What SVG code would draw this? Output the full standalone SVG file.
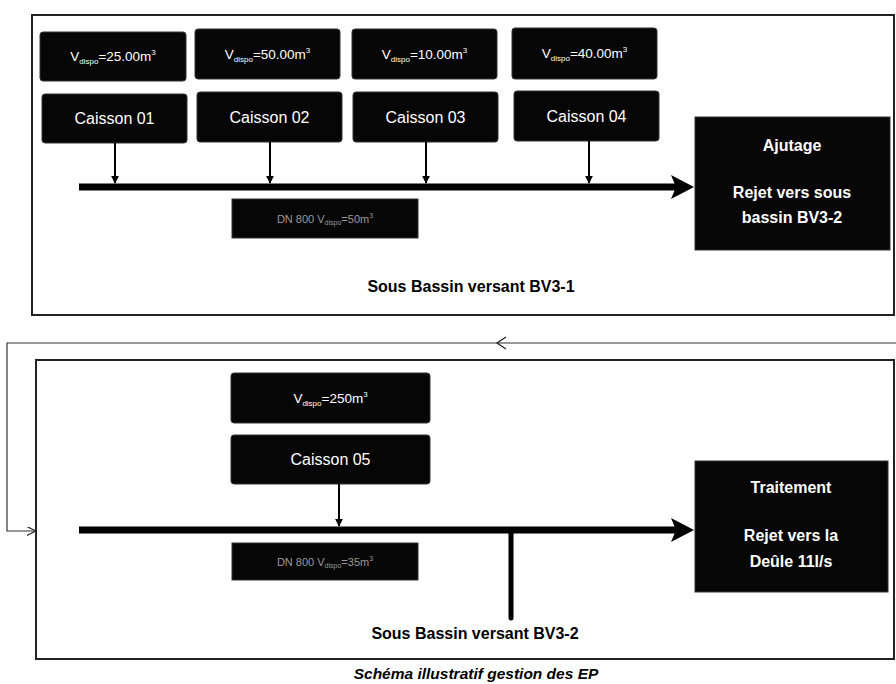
<svg xmlns="http://www.w3.org/2000/svg" width="896" height="684" viewBox="0 0 896 684">
<style>
.frame{fill:none;stroke:#222;stroke-width:2}
.box{fill:#060606;stroke:#333;stroke-width:1}
.vd{font-family:"Liberation Sans",Arial,sans-serif;font-size:13.5px;fill:#fff;text-anchor:middle}
.cs{font-family:"Liberation Sans",Arial,sans-serif;font-size:16px;fill:#fff;text-anchor:middle}
.bt{font-family:"Liberation Sans",Arial,sans-serif;font-size:16px;font-weight:bold;fill:#fff;text-anchor:middle}
.dn{font-family:"Liberation Sans",Arial,sans-serif;font-size:11px;fill:#9a9a9a;text-anchor:middle}
.lbl{font-family:"Liberation Sans",Arial,sans-serif;font-size:16px;font-weight:bold;fill:#000;text-anchor:middle}
.cap{font-family:"Liberation Sans",Arial,sans-serif;font-size:15.5px;font-weight:bold;font-style:italic;fill:#000;text-anchor:middle}
.thin{stroke:#000;stroke-width:2;fill:none}
.bar{stroke:#000;stroke-width:7;fill:none}
.loop{stroke:#333;stroke-width:1.2;fill:none}
</style>
<defs>
<marker id="ah" viewBox="0 0 10 10" refX="9" refY="5" markerWidth="4" markerHeight="4" orient="auto"><path d="M0,0 L10,5 L0,10 z" fill="#000"/></marker>
<marker id="open" viewBox="0 0 10 10" refX="9" refY="5" markerWidth="9" markerHeight="9" markerUnits="userSpaceOnUse" orient="auto"><path d="M0,0 L10,5 L0,10" fill="none" stroke="#222" stroke-width="1.3"/></marker>
</defs>

<g id="frame-bv31"><rect class="frame" x="32" y="15" width="862" height="300"/></g>
<g id="frame-bv32"><rect class="frame" x="36" y="360" width="858" height="299"/></g>

<g id="vdispo1"><rect class="box" x="40" y="32" width="146" height="49" rx="3"/><text class="vd" x="113" y="61">V<tspan font-size="8" dy="3">dispo</tspan><tspan dy="-3">=25.00m</tspan><tspan font-size="8" dy="-6">3</tspan></text></g>
<g id="vdispo2"><rect class="box" x="195" y="29" width="145" height="50" rx="3"/><text class="vd" x="267.5" y="59">V<tspan font-size="8" dy="3">dispo</tspan><tspan dy="-3">=50.00m</tspan><tspan font-size="8" dy="-6">3</tspan></text></g>
<g id="vdispo3"><rect class="box" x="352" y="29" width="145" height="50" rx="3"/><text class="vd" x="424.5" y="59">V<tspan font-size="8" dy="3">dispo</tspan><tspan dy="-3">=10.00m</tspan><tspan font-size="8" dy="-6">3</tspan></text></g>
<g id="vdispo4"><rect class="box" x="512" y="28" width="145" height="51" rx="3"/><text class="vd" x="584.5" y="58">V<tspan font-size="8" dy="3">dispo</tspan><tspan dy="-3">=40.00m</tspan><tspan font-size="8" dy="-6">3</tspan></text></g>

<g id="caisson01"><rect class="box" x="42" y="94" width="145" height="49" rx="3"/><text class="cs" x="114.5" y="124">Caisson 01</text></g>
<g id="caisson02"><rect class="box" x="197" y="92" width="145" height="50" rx="3"/><text class="cs" x="269.5" y="123">Caisson 02</text></g>
<g id="caisson03"><rect class="box" x="353" y="92" width="145" height="50" rx="3"/><text class="cs" x="425.5" y="123">Caisson 03</text></g>
<g id="caisson04"><rect class="box" x="514" y="91" width="145" height="50" rx="3"/><text class="cs" x="586.5" y="122">Caisson 04</text></g>

<g id="ajutage"><rect class="box" x="695" y="117" width="195" height="133"/><text class="bt" x="792" y="151">Ajutage</text><text class="bt" x="792" y="198">Rejet vers sous</text><text class="bt" x="792" y="223">bassin BV3-2</text></g>

<g id="dn800-1"><rect class="box" x="232" y="199" width="186" height="39"/><text class="dn" x="325" y="223">DN 800 V<tspan font-size="7" dy="2">dispo</tspan><tspan dy="-2">=50m</tspan><tspan font-size="7" dy="-5">3</tspan></text></g>

<g id="label-bv31"><text class="lbl" x="471" y="292">Sous Bassin versant BV3-1</text></g>

<g id="vdispo5"><rect class="box" x="231" y="373" width="199" height="50" rx="3"/><text class="vd" x="330.5" y="403">V<tspan font-size="8" dy="3">dispo</tspan><tspan dy="-3">=250m</tspan><tspan font-size="8" dy="-6">3</tspan></text></g>
<g id="caisson05"><rect class="box" x="231" y="435" width="199" height="49" rx="3"/><text class="cs" x="330.5" y="465">Caisson 05</text></g>

<g id="traitement"><rect class="box" x="695" y="461" width="193" height="131"/><text class="bt" x="791" y="493">Traitement</text><text class="bt" x="791" y="541">Rejet vers la</text><text class="bt" x="791" y="567">Deûle 11l/s</text></g>

<g id="dn800-2"><rect class="box" x="232" y="543" width="186" height="37"/><text class="dn" x="325" y="566">DN 800 V<tspan font-size="7" dy="2">dispo</tspan><tspan dy="-2">=35m</tspan><tspan font-size="7" dy="-5">3</tspan></text></g>

<g id="label-bv32"><text class="lbl" x="475" y="639">Sous Bassin versant BV3-2</text></g>

<g id="caption"><text class="cap" x="476" y="679">Schéma illustratif gestion des EP</text></g>

<g id="connectors">
<line class="thin" x1="115" y1="143" x2="115" y2="183" marker-end="url(#ah)"/>
<line class="thin" x1="270" y1="142" x2="270" y2="183" marker-end="url(#ah)"/>
<line class="thin" x1="426" y1="142" x2="426" y2="183" marker-end="url(#ah)"/>
<line class="thin" x1="589" y1="141" x2="589" y2="183" marker-end="url(#ah)"/>
<line class="bar" x1="79" y1="187" x2="676" y2="187"/>
<polygon points="671,175 694,187 671,199 676,187" fill="#000"/>

<line class="thin" x1="339" y1="484" x2="339" y2="526" marker-end="url(#ah)"/>
<line class="bar" x1="79" y1="530" x2="676" y2="530"/>
<polygon points="671,518 694,530 671,542 676,530" fill="#000"/>
<line x1="511" y1="530" x2="511" y2="618" stroke="#000" stroke-width="5" stroke-linecap="round"/>

<path class="loop" d="M896,343 L7,343 L7,531 L35,531" marker-end="url(#open)"/>
<path d="M506,337 L497,343 L506,349" fill="none" stroke="#222" stroke-width="1.3"/>
</g>
</svg>
